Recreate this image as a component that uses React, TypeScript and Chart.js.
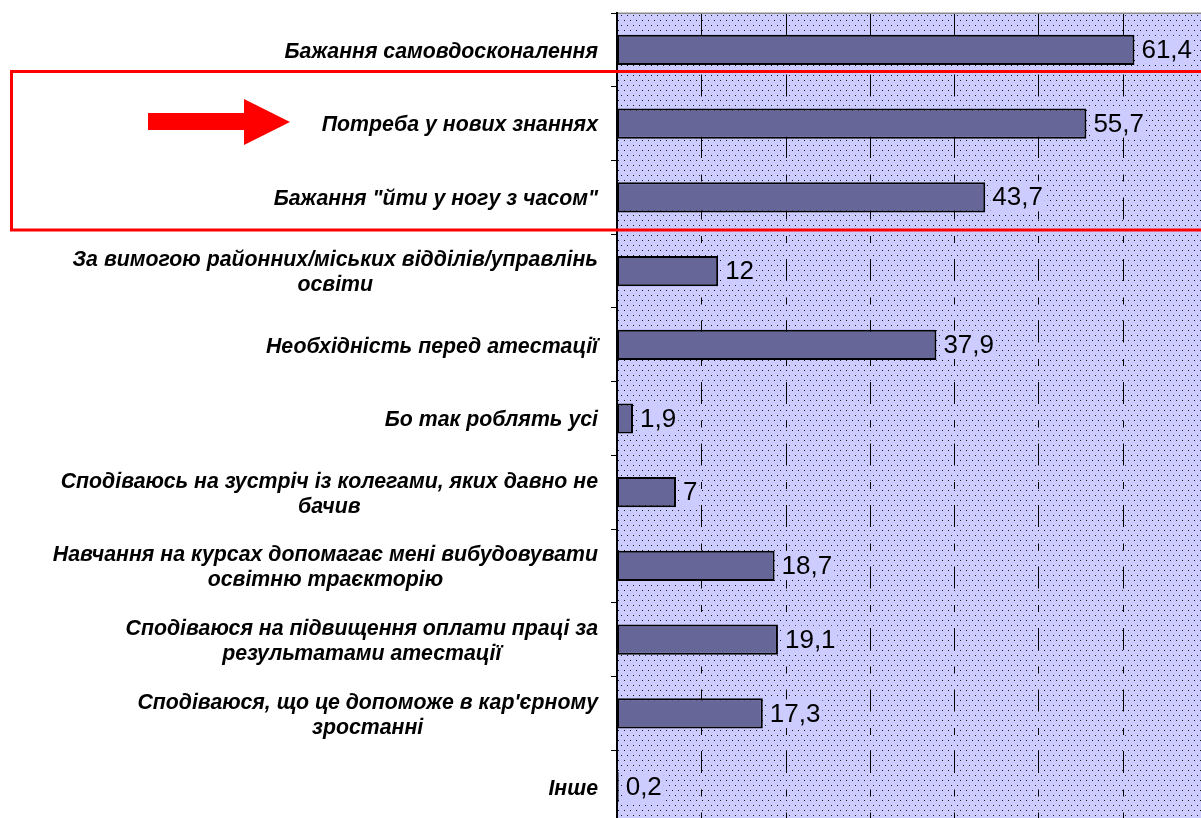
import React, { useEffect, useRef } from 'react';
import { Chart, registerables } from 'chart.js';

Chart.register(...registerables);

const categories: (string | string[])[] = [
  'Бажання самовдосконалення',
  'Потреба у нових знаннях',
  'Бажання "йти у ногу з часом"',
  ['За вимогою районних/міських відділів/управлінь', 'освіти'],
  'Необхідність перед атестації',
  'Бо так роблять усі',
  ['Сподіваюсь на зустріч із колегами, яких давно не', 'бачив'],
  ['Навчання на курсах допомагає мені вибудовувати', 'освітню траєкторію'],
  ['Сподіваюся на підвищення оплати праці за', 'результатами атестації'],
  ["Сподіваюся, що це допоможе в кар'єрному", 'зростанні'],
  'Інше',
];

const values: number[] = [61.4, 55.7, 43.7, 12, 37.9, 1.9, 7, 18.7, 19.1, 17.3, 0.2];

const gridValues: number[] = [10, 20, 30, 40, 50, 60];
const xMin = 0;
const xMax = 69.3;

const LABEL_FONT = 'italic bold 21.3px "Liberation Sans", Arial, sans-serif';
const VALUE_FONT = '26px "Liberation Sans", Arial, sans-serif';

export default function App() {
  const ref = useRef<HTMLCanvasElement>(null);

  useEffect(() => {
    const canvas = ref.current;
    if (!canvas) return;

    const tile = document.createElement('canvas');
    tile.width = 6;
    tile.height = 10;
    const tctx = tile.getContext('2d')!;
    tctx.fillStyle = '#CCCCFF';
    tctx.fillRect(0, 0, 6, 10);
    tctx.fillStyle = '#1a1a1a';
    tctx.fillRect(0, 0, 1, 1);
    tctx.fillRect(3, 5, 1, 1);
    const pattern = canvas.getContext('2d')!.createPattern(tile, 'repeat');

    const backgroundPlugin = {
      id: 'bgPattern',
      beforeDraw(chart: any) {
        const { ctx, chartArea } = chart;
        const xs = chart.scales.x;
        ctx.save();
        ctx.fillStyle = pattern || '#CCCCFF';
        ctx.fillRect(chartArea.left, chartArea.top, chartArea.right - chartArea.left, chartArea.bottom - chartArea.top);
        // dashed vertical grid lines
        ctx.strokeStyle = '#000';
        ctx.lineWidth = 1;
        ctx.setLineDash([22, 16.5, 7, 16]);
        gridValues.forEach((v) => {
          const px = Math.round(xs.getPixelForValue(v)) + 0.5;
          ctx.beginPath();
          ctx.moveTo(px, chartArea.top);
          ctx.lineTo(px, chartArea.bottom);
          ctx.stroke();
        });
        ctx.setLineDash([]);
        // top border
        ctx.strokeStyle = '#8a8a8a';
        ctx.lineWidth = 1.5;
        ctx.beginPath();
        ctx.moveTo(chartArea.left, chartArea.top + 0.25);
        ctx.lineTo(chartArea.right, chartArea.top + 0.25);
        ctx.stroke();
        ctx.restore();
      },
    };

    const labelsPlugin = {
      id: 'labels',
      afterDraw(chart: any) {
        const { ctx, chartArea } = chart;
        const ys = chart.scales.y;
        const xs = chart.scales.x;
        ctx.save();
        // category labels: right-aligned block, lines centred within block
        ctx.font = LABEL_FONT;
        ctx.fillStyle = '#000';
        ctx.textBaseline = 'middle';
        ctx.textAlign = 'center';
        const labelRight = chartArea.left - 19;
        const lh = 25;
        categories.forEach((c, i) => {
          const lines = Array.isArray(c) ? c : [c];
          const yc = ys.getPixelForValue(i);
          const maxW = Math.max(...lines.map((l) => ctx.measureText(l).width));
          const cx = labelRight - maxW / 2;
          lines.forEach((l, j) => {
            ctx.fillText(l, cx, yc + (j - (lines.length - 1) / 2) * lh + 2);
          });
        });
        // value labels
        ctx.font = VALUE_FONT;
        ctx.textAlign = 'left';
        values.forEach((v, i) => {
          const text = String(v).replace('.', ',');
          const x = xs.getPixelForValue(v) + 7;
          const yc = ys.getPixelForValue(i);
          const w = ctx.measureText(text).width;
          ctx.fillStyle = '#CCCCFF';
          ctx.fillRect(x - 2, yc - 14, w + 4, 28);
          ctx.fillStyle = '#000';
          ctx.fillText(text, x, yc + 1);
        });
        // red annotation box
        ctx.strokeStyle = '#FF0000';
        ctx.lineWidth = 3;
        ctx.strokeRect(11.5, 71.5, 1220, 158.5);
        // red arrow
        ctx.fillStyle = '#FF0000';
        ctx.beginPath();
        ctx.moveTo(148, 113);
        ctx.lineTo(244, 113);
        ctx.lineTo(244, 99);
        ctx.lineTo(290, 122);
        ctx.lineTo(244, 145);
        ctx.lineTo(244, 130);
        ctx.lineTo(148, 130);
        ctx.closePath();
        ctx.fill();
        ctx.restore();
      },
    };

    const chart = new Chart(canvas, {
      type: 'bar',
      data: {
        labels: categories.map((c) => (Array.isArray(c) ? c.join(' ') : c)),
        datasets: [
          {
            data: values,
            backgroundColor: '#666699',
            borderColor: '#000000',
            borderWidth: 2,
            borderSkipped: false,
            barPercentage: 0.41,
            categoryPercentage: 1,
          },
        ],
      },
      options: {
        indexAxis: 'y',
        responsive: false,
        animation: false,
        devicePixelRatio: 1,
        layout: { padding: { top: 13, bottom: 0, left: 0, right: 0 } },
        plugins: {
          legend: { display: false },
          tooltip: { enabled: false },
          title: { display: false },
        },
        scales: {
          x: {
            type: 'linear',
            min: xMin,
            max: xMax,
            display: false,
          },
          y: {
            type: 'category',
            offset: true,
            grid: {
              display: true,
              offset: true,
              drawOnChartArea: false,
              drawTicks: true,
              tickLength: 6,
              tickColor: '#000',
              tickWidth: 1,
            },
            border: { display: true, color: '#000', width: 2 },
            ticks: { display: false },
            afterFit: (s: any) => {
              s.width = 617;
            },
          },
        },
      },
      plugins: [backgroundPlugin, labelsPlugin],
    } as any);

    return () => chart.destroy();
  }, []);

  return (
    <div
      style={{
        position: 'fixed',
        left: 0,
        top: 0,
        width: 1201,
        height: 818,
        overflow: 'hidden',
        background: '#fff',
      }}
    >
      <canvas ref={ref} width={1201} height={824} style={{ display: 'block', width: 1201, height: 824 }} />
    </div>
  );
}
